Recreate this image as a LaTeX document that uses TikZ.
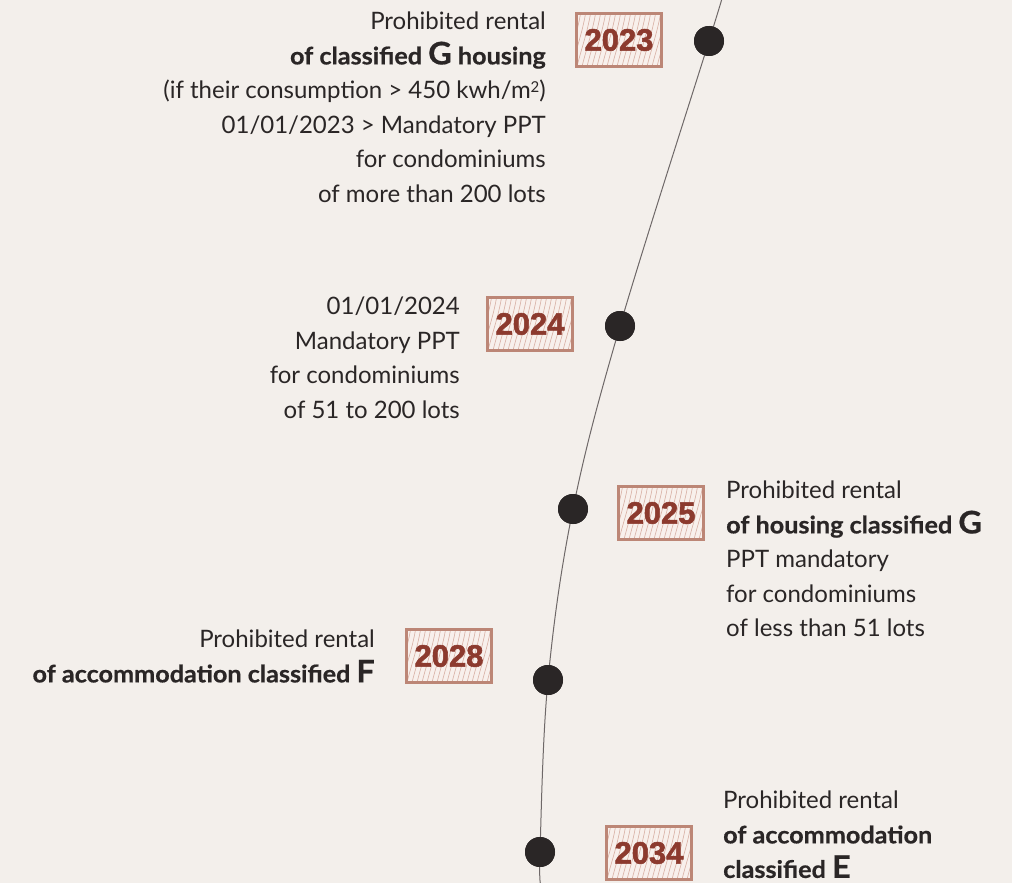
\documentclass[tikz,border=0pt]{standalone}
\usepackage{fontspec}
\setmainfont{Lato}[BoldFeatures={FakeBold=0.6,FakeStretch=1.05}]
\newfontfamily\yearfont[FakeBold=1.8]{Liberation Sans Bold}
\definecolor{bg}{HTML}{F3EFEB}
\definecolor{ink}{HTML}{2A2626}
\definecolor{boxline}{HTML}{BC8676}
\definecolor{boxfill}{HTML}{F8F0EC}
\definecolor{hatch}{HTML}{D7AEA2}
\definecolor{yeartxt}{HTML}{8C3A2E}
\definecolor{curve}{HTML}{6E6868}
\begin{document}
\begin{tikzpicture}[x=1pt,y=-1pt,
  txt/.style={inner sep=0pt, text=ink, font=\fontsize{24}{34.5}\selectfont},
  yearbox/.style={draw=boxline, line width=3pt, fill=boxfill, minimum width=85pt, minimum height=53pt, inner sep=0pt,
    text=yeartxt, font=\yearfont\fontsize{31}{31}\selectfont,
    path picture={\foreach \i in {-62,-57,...,50}{\draw[hatch, line width=0.6pt] ([xshift=\i pt]path picture bounding box.south) .. controls +(5pt,20pt) and +(-3pt,-20pt) .. ++(14pt,56pt);}}},
  dot/.style={circle, fill=ink, minimum size=30pt, inner sep=0pt},
  curvestyle/.style={draw=curve, line width=1pt}]
\fill[bg] (0,0) rectangle (1012,883);
\useasboundingbox (0,0) rectangle (1012,883);
% curve
\coordinate (top) at (722,-2);
\coordinate (bot) at (541,885);
\node[dot] (d1) at (709,41) {};
\node[dot] (d2) at (620,326) {};
\node[dot] (d3) at (573,509) {};
\node[dot] (d4) at (548,680) {};
\node[dot] (d5) at (540,852) {};
\draw[curvestyle] plot[smooth, tension=0.6] coordinates {(top) (d1.center) (d2.center) (d3.center) (d4.center) (d5.center) (bot)};
\foreach \d in {d1,d2,d3,d4,d5} \fill[ink] (\d) circle (15pt);
% year boxes
\node[yearbox] (y1) at (619,40) {2023};
\node[yearbox] (y2) at (530,324) {2024};
\node[yearbox] (y3) at (661,513) {2025};
\node[yearbox] (y4) at (449,656) {2028};
\node[yearbox] (y5) at (649,853) {2034};
% texts
\newcommand\bigltr[1]{{\fontsize{31}{31}\selectfont #1}}
\node[txt, anchor=north east, align=right] (t1) at (546,12) {Prohibited rental\\
\textbf{of classified \bigltr{G} housing}\\
(if their consumption > 450 kwh/m{\fontsize{15}{15}\selectfont\raisebox{6pt}{2}})\\
01/01/2023 > Mandatory PPT\\
for condominiums\\
of more than 200 lots};
\node[txt, anchor=north east, align=right] (t2) at (460,297) {01/01/2024\\
Mandatory PPT\\
for condominiums\\
of 51 to 200 lots};
\node[txt, anchor=north west, align=left] (t3) at (726,481) {Prohibited rental\\
\textbf{of housing classified \bigltr{G}}\\
PPT mandatory\\
for condominiums\\
of less than 51 lots};
\node[txt, anchor=north east, align=right] (t4) at (375,630) {Prohibited rental\\
\textbf{of accommodation classified \bigltr{F}}};
\node[txt, anchor=north west, align=left] (t5) at (723,791) {Prohibited rental\\
\textbf{of accommodation}\\
\textbf{classified \bigltr{E}}};
\end{tikzpicture}
\end{document}
